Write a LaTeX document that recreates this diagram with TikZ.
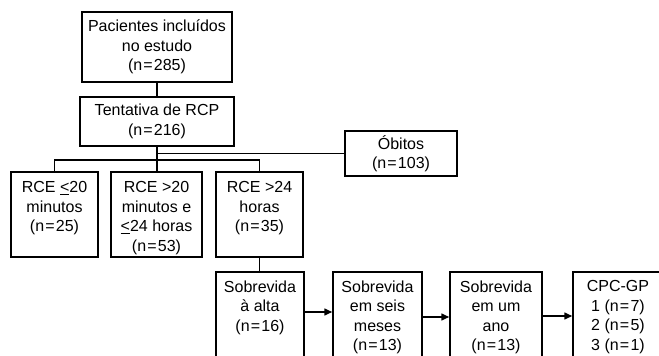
\documentclass[tikz,border=0pt]{standalone}
\usepackage{fontspec}
\setmainfont{Liberation Sans}
\usetikzlibrary{arrows.meta}
\newcommand{\myeq}{\kern1.2pt=\kern1.2pt}
\begin{document}
\begin{tikzpicture}[x=1pt,y=-1pt,
  every node/.style={font=\fontsize{16}{19.5}\selectfont},
  box/.style={draw, line width=1.5pt, inner sep=0pt},
  txt/.style={align=center, inner sep=0pt, anchor=north},
  conn/.style={line width=1.5pt},
  arr/.style={line width=1.5pt, -{Triangle[length=8pt,width=7pt]}}]
\useasboundingbox (0,0) rectangle (659,356);
\clip (0,0) rectangle (659,356);
% top boxes
\node[box, minimum width=150pt, minimum height=70pt, align=center] (pac) at (157,47) {Pacientes incluídos\\no estudo\\(n\myeq285)};
\node[box, minimum width=154pt, minimum height=49pt, align=center] (ten) at (157,121.5) {Tentativa de RCP\\(n\myeq216)};
\node[box, minimum width=112pt, minimum height=45pt, align=center] (obi) at (401,153.5) {Óbitos\\(n\myeq103)};
% RCE row
\node[box, minimum width=87pt, minimum height=85pt] (r1) at (54.5,214.5) {};
\node[box, minimum width=91pt, minimum height=85pt] (r2) at (156.5,214.5) {};
\node[box, minimum width=87pt, minimum height=85pt] (r3) at (259.5,214.5) {};
\node[txt] (t1) at ([yshift=-10pt]r1.north) {RCE \underline{<}20\\minutos\\(n\myeq25)};
\node[txt] (t2) at ([yshift=-10pt]r2.north) {RCE >20\\minutos e\\\underline{<}24 horas\\(n\myeq53)};
\node[txt] (t3) at ([yshift=-10pt]r3.north) {RCE >24\\horas\\(n\myeq35)};
% survival row
\node[box, minimum width=88pt, minimum height=88pt] (s1) at (260,316) {};
\node[box, minimum width=89pt, minimum height=88pt] (s2) at (377.5,316) {};
\node[box, minimum width=92pt, minimum height=88pt] (s3) at (496,316) {};
\node[box, minimum width=127pt, minimum height=88pt] (cpc) at (636.5,316) {};
\node[txt] (u1) at ([yshift=-9pt]s1.north) {Sobrevida\\à alta\\(n\myeq16)};
\node[txt] (u2) at ([yshift=-9pt]s2.north) {Sobrevida\\em seis\\meses\\(n\myeq13)};
\node[txt] (u3) at ([yshift=-9pt]s3.north) {Sobrevida\\em um\\ano\\(n\myeq13)};
\node[txt] (u4) at ([xshift=-18.5pt,yshift=-9pt]cpc.north) {CPC-GP\\1 (n\myeq7)\\2 (n\myeq5)\\3 (n\myeq1)};
% connectors
\draw[conn] (pac) -- (ten);
\draw[conn] (ten.south) |- (obi.west);
\draw[conn] (ten.south) -- (ten.south |- r2.north);
\coordinate (bus) at (157,160);
\draw[conn] (r1.north) |- (bus) -| (r3.north);
\draw[conn] (r3.south) -- (r3.south |- s1.north);
\draw[arr] ([yshift=4pt]s1.east) -- ([yshift=4pt]s2.west);
\draw[arr] ([yshift=-1pt]s2.east) -- ([yshift=-1pt]s3.west);
\draw[arr] (s3.east) -- (cpc.west);
\end{tikzpicture}
\end{document}
